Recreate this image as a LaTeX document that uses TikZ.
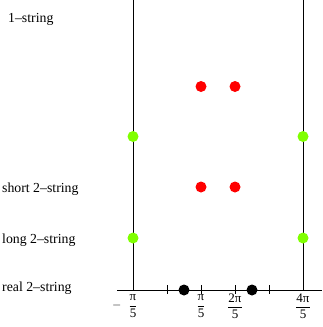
\documentclass[tikz,border=0pt]{standalone}
\usepackage{amsmath}
\usepackage{fontspec}
\setmainfont{Liberation Serif}
\begin{document}
\begin{tikzpicture}[x=1pt,y=-1pt,
  lbl/.style={anchor=base west,inner sep=0pt,font=\fontsize{13.8}{14}\selectfont},
  tlbl/.style={anchor=center,inner sep=0pt,font=\fontsize{13}{14}\selectfont},
  reddot/.style={circle,fill=red,inner sep=0pt,minimum size=11pt},
  grndot/.style={circle,fill={rgb,255:red,128;green,255;blue,0},inner sep=0pt,minimum size=11pt},
  blkdot/.style={circle,fill=black,inner sep=0pt,minimum size=11pt},
  axisline/.style={line width=0.7pt},
  tick/.style={line width=0.6pt}]
\useasboundingbox (0,0) rectangle (322,327);
% axis
\coordinate (axL) at (117,290);
\coordinate (axR) at (322,290);
\draw[axisline] (axL) -- (axR);
\coordinate (v1t) at (133,0);
\coordinate (v1b) at (133,290);
\coordinate (v2t) at (303,0);
\coordinate (v2b) at (303,290);
\draw[axisline] (v1t) -- (v1b);
\draw[axisline] (v2t) -- (v2b);
\foreach \xx/\nm in {167/ta,201/tb,235/tc,269/td}{
  \coordinate (\nm1) at (\xx,285);
  \coordinate (\nm2) at (\xx,294);
  \draw[tick] (\nm1) -- (\nm2);
}
% tick labels
\node[tlbl] (lm) at (133,306) {\llap{$-$\hspace{7pt}}$\dfrac{\text{π}}{\text{5}}$};
\node[tlbl] (l1) at (201,306) {$\dfrac{\text{π}}{\text{5}}$};
\node[tlbl] (l2) at (235,306) {$\dfrac{\text{2π}}{\text{5}}$};
\node[tlbl] (l4) at (303,306) {$\dfrac{\text{4π}}{\text{5}}$};
% row labels
\node[lbl] (r1) at (8,22) {1--string};
\node[lbl] (r2) at (2,192) {short 2--string};
\node[lbl] (r3) at (2,243) {long 2--string};
\node[lbl] (r4) at (2,291) {real 2--string};
% dots
\node[reddot] (a1) at (201,86.5) {};
\node[reddot] (a2) at (235,86.5) {};
\node[reddot] (a3) at (201,187) {};
\node[reddot] (a4) at (235,187) {};
\node[grndot] (g1) at (133,136.5) {};
\node[grndot] (g2) at (303,136.5) {};
\node[grndot] (g3) at (133,238) {};
\node[grndot] (g4) at (303,238) {};
\node[blkdot] (b1) at (184,290) {};
\node[blkdot] (b2) at (252,290) {};
\end{tikzpicture}
\end{document}
